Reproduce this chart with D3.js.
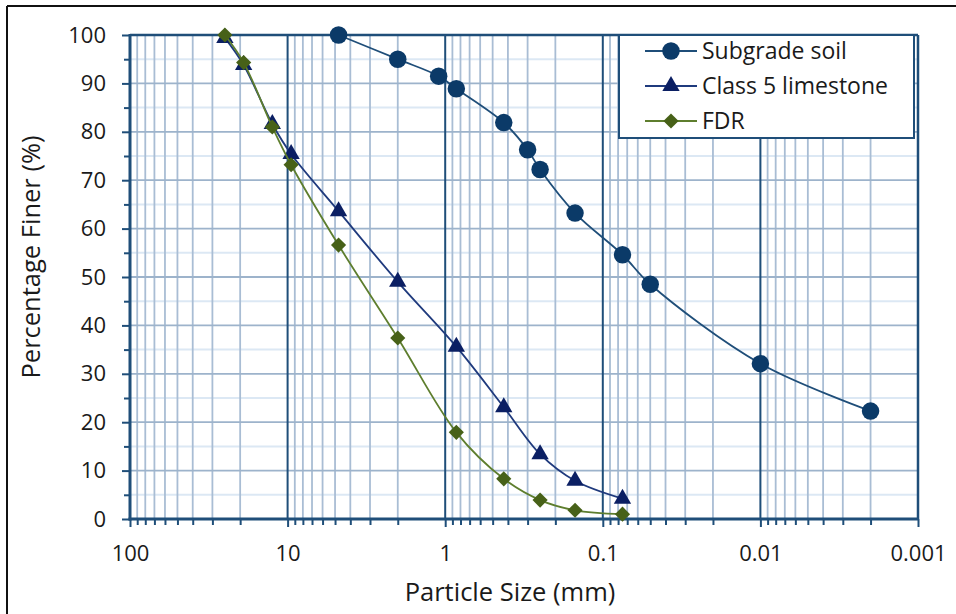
<!DOCTYPE html>
<html>
<head>
<meta charset="utf-8">
<script src="https://cdn.jsdelivr.net/npm/d3@7"></script>
<style>
  html, body { margin: 0; padding: 0; background: #fff; }
  svg { display: block; }
  text { font-family: "Open Sans", "Liberation Sans", sans-serif; fill: #1a1a1a; }
</style>
</head>
<body>
<svg id="chart" width="956" height="614"></svg>
<script>
// Grain-size distribution: percentage finer vs. particle size (mm)
const subgradeSize = [4.75, 2.0, 1.1, 0.85, 0.425, 0.3, 0.25, 0.15, 0.075, 0.05, 0.01, 0.002];
const subgradeFiner = [100, 95, 91.5, 88.9, 81.9, 76.3, 72.2, 63.2, 54.6, 48.5, 32.1, 22.3];

const limestoneSize = [25, 19, 12.5, 9.5, 4.75, 2.0, 0.85, 0.425, 0.25, 0.15, 0.075];
const limestoneFiner = [99.4, 93.8, 81.6, 75.4, 63.6, 49.0, 35.6, 23.1, 13.4, 7.9, 4.2];

const fdrSize = [25, 19, 12.5, 9.5, 4.75, 2.0, 0.85, 0.425, 0.25, 0.15, 0.075];
const fdrFiner = [100, 94.3, 81.0, 73.2, 56.6, 37.4, 17.9, 8.3, 3.9, 1.8, 1.0];

const seriesNames = ["Subgrade soil", "Class 5 limestone", "FDR"];
const xTickValues = [100, 10, 1, 0.1, 0.01, 0.001];
const xTickLabels = ["100", "10", "1", "0.1", "0.01", "0.001"];
const yTickValues = [0, 10, 20, 30, 40, 50, 60, 70, 80, 90, 100];

const xTitle = "Particle Size (mm)";
const yTitle = "Percentage Finer (%)";

const svg = d3.select("#chart");
const plotL = 130, plotR = 918, plotT = 35, plotB = 519;

const x = d3.scaleLog().domain([100, 0.001]).range([plotL, plotR]);
const y = d3.scaleLinear().domain([0, 100]).range([plotB, plotT]);

const navy = "#1F4E79";

// outer frame (top and left edges visible)
svg.append("line").attr("x1", 7).attr("y1", 6).attr("x2", 956).attr("y2", 6)
  .attr("stroke", "#111").attr("stroke-width", 2);
svg.append("line").attr("x1", 7).attr("y1", 6).attr("x2", 7).attr("y2", 614)
  .attr("stroke", "#111").attr("stroke-width", 2);

// minor value positions on the log axis
const minorX = [];
for (let e = -3; e < 2; e++) {
  for (let k = 2; k <= 9; k++) minorX.push(k * Math.pow(10, e));
}
const minorY = d3.range(5, 100, 10);

const grid = svg.append("g");
// light horizontal lines at the half steps
grid.selectAll(".hmin").data(minorY).join("line")
  .attr("x1", plotL).attr("x2", plotR)
  .attr("y1", d => y(d)).attr("y2", d => y(d))
  .attr("stroke", "#DCE8F4").attr("stroke-width", 2);
// minor vertical lines
grid.selectAll(".vmin").data(minorX).join("line")
  .attr("x1", d => x(d)).attr("x2", d => x(d))
  .attr("y1", plotT).attr("y2", plotB)
  .attr("stroke", "#A9BDD4").attr("stroke-width", 1.8);
// horizontal lines at every 10 %
grid.selectAll(".hmaj").data(yTickValues.filter(v => v > 0 && v < 100)).join("line")
  .attr("x1", plotL).attr("x2", plotR)
  .attr("y1", d => y(d)).attr("y2", d => y(d))
  .attr("stroke", "#9DB3CB").attr("stroke-width", 1.8);
// decade lines
grid.selectAll(".vmaj").data(xTickValues.slice(1, -1)).join("line")
  .attr("x1", d => x(d)).attr("x2", d => x(d))
  .attr("y1", plotT).attr("y2", plotB)
  .attr("stroke", navy).attr("stroke-width", 2);

// plot border: top and right
svg.append("line").attr("x1", plotL).attr("x2", plotR).attr("y1", plotT).attr("y2", plotT)
  .attr("stroke", navy).attr("stroke-width", 2.5);
svg.append("line").attr("x1", plotR).attr("x2", plotR).attr("y1", plotT).attr("y2", plotB)
  .attr("stroke", navy).attr("stroke-width", 2.5);

// axes
const yAxis = d3.axisLeft(y).tickValues(yTickValues).tickSize(8).tickPadding(16).tickFormat(d3.format("d"));
const yMinor = d3.axisLeft(y).tickValues(minorY).tickSize(6).tickFormat("");
const xAxis = d3.axisBottom(x).tickValues(xTickValues).tickSize(8).tickPadding(18)
  .tickFormat((d, i) => xTickLabels[i]);
const xMinor = d3.axisBottom(x).tickValues(minorX).tickSize(6).tickFormat("");

function styleAxis(g) {
  g.select(".domain").remove();
  g.selectAll(".tick line").attr("stroke", navy).attr("stroke-width", 2);
  g.selectAll(".tick text").style("font-size", "22px").attr("fill", "#1a1a1a");
}

svg.append("g").attr("transform", `translate(${plotL},0)`).call(yMinor).call(styleAxis);
svg.append("g").attr("transform", `translate(${plotL},0)`).call(yAxis).call(styleAxis);
svg.append("g").attr("transform", `translate(0,${plotB})`).call(xMinor).call(styleAxis);
svg.append("g").attr("transform", `translate(0,${plotB})`).call(xAxis).call(styleAxis);

// axis lines
svg.append("line").attr("x1", plotL).attr("x2", plotL).attr("y1", plotT - 1).attr("y2", plotB + 1.5)
  .attr("stroke", navy).attr("stroke-width", 3);
svg.append("line").attr("x1", plotL - 1.5).attr("x2", plotR + 1).attr("y1", plotB).attr("y2", plotB)
  .attr("stroke", navy).attr("stroke-width", 3);

// axis titles
svg.append("text").attr("x", 510).attr("y", 601).attr("text-anchor", "middle")
  .style("font-size", "25.5px").text(xTitle);
svg.append("text").attr("transform", "translate(40,257) rotate(-90)").attr("text-anchor", "middle")
  .style("font-size", "25.5px").text(yTitle);

// series
const series = [
  { name: seriesNames[0], size: subgradeSize, finer: subgradeFiner,
    line: "#1F4E79", fill: "#0B3A68", symbol: d3.symbolCircle, symSize: 240, rot: 0 },
  { name: seriesNames[1], size: limestoneSize, finer: limestoneFiner,
    line: "#1F3A7D", fill: "#0B1F63", symbol: d3.symbolTriangle, symSize: 130, rot: 0 },
  { name: seriesNames[2], size: fdrSize, finer: fdrFiner,
    line: "#5E7E2E", fill: "#476118", symbol: d3.symbolSquare, symSize: 115, rot: 45 }
];

const lineGen = d3.line().x(d => x(d[0])).y(d => y(d[1])).curve(d3.curveCatmullRom.alpha(0.5));

series.forEach(s => {
  const pts = s.size.map((v, i) => [v, s.finer[i]]);
  svg.append("path").datum(pts).attr("d", lineGen)
    .attr("fill", "none").attr("stroke", s.line).attr("stroke-width", 1.8);
  svg.append("g").selectAll("path").data(pts).join("path")
    .attr("d", d3.symbol().type(s.symbol).size(s.symSize))
    .attr("transform", d => `translate(${x(d[0])},${y(d[1])}) rotate(${s.rot})`)
    .attr("fill", s.fill);
});

// legend
const lg = svg.append("g");
lg.append("rect").attr("x", 619).attr("y", 35).attr("width", 295).attr("height", 103)
  .attr("fill", "#fff").attr("stroke", navy).attr("stroke-width", 2);
const rowY = [51, 86, 121];
series.forEach((s, i) => {
  lg.append("line").attr("x1", 645).attr("x2", 697).attr("y1", rowY[i]).attr("y2", rowY[i])
    .attr("stroke", s.line).attr("stroke-width", 1.8);
  lg.append("path").attr("d", d3.symbol().type(s.symbol).size(s.symSize))
    .attr("transform", `translate(671,${rowY[i]}) rotate(${s.rot})`).attr("fill", s.fill);
  lg.append("text").attr("x", 702).attr("y", rowY[i]).attr("dy", "0.35em")
    .style("font-size", "23px").text(s.name);
});
</script>
</body>
</html>
